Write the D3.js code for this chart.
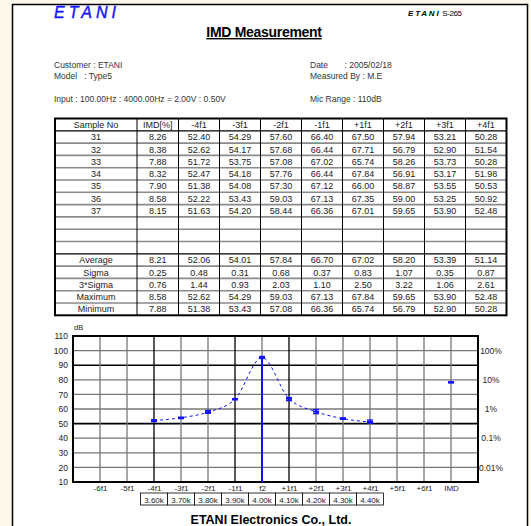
<!DOCTYPE html>
<html>
<head>
<meta charset="utf-8">
<script src="https://cdn.jsdelivr.net/npm/d3@7"></script>
<style>
html, body { margin: 0; padding: 0; background: #fcf8ec; }
svg { display: block; font-family: "Liberation Sans", Arial, sans-serif; }
</style>
</head>
<body>
<svg id="page" width="531" height="526"></svg>
<script>
// ---- data ----
const columns = ["Sample No", "IMD[%]", "-4f1", "-3f1", "-2f1", "-1f1", "+1f1", "+2f1", "+3f1", "+4f1"];
const samples = ["31", "32", "33", "34", "35", "36", "37"];
const imdPct = [8.26, 8.38, 7.88, 8.32, 7.90, 8.58, 8.15];
const m4f1 = [52.40, 52.62, 51.72, 52.47, 51.38, 52.22, 51.63];
const m3f1 = [54.29, 54.17, 53.75, 54.18, 54.08, 53.43, 54.20];
const m2f1 = [57.60, 57.68, 57.08, 57.76, 57.30, 59.03, 58.44];
const m1f1 = [66.40, 66.44, 67.02, 66.44, 67.12, 67.13, 66.36];
const p1f1 = [67.50, 67.71, 65.74, 67.84, 66.00, 67.35, 67.01];
const p2f1 = [57.94, 56.79, 58.26, 56.91, 58.87, 59.00, 59.65];
const p3f1 = [53.21, 52.90, 53.73, 53.17, 53.55, 53.25, 53.90];
const p4f1 = [50.28, 51.54, 50.28, 51.98, 50.53, 50.92, 52.48];

const statNames = ["Average", "Sigma", "3*Sigma", "Maximum", "Minimum"];
const avgRow = [8.21, 52.06, 54.01, 57.84, 66.70, 67.02, 58.20, 53.39, 51.14];
const sigmaRow = [0.25, 0.48, 0.31, 0.68, 0.37, 0.83, 1.07, 0.35, 0.87];
const sigma3Row = [0.76, 1.44, 0.93, 2.03, 1.10, 2.50, 3.22, 1.06, 2.61];
const maxRow = [8.58, 52.62, 54.29, 59.03, 67.13, 67.84, 59.65, 53.90, 52.48];
const minRow = [7.88, 51.38, 53.43, 57.08, 66.36, 65.74, 56.79, 52.90, 50.28];

// chart
const xCats = ["-6f1", "-5f1", "-4f1", "-3f1", "-2f1", "-1f1", "f2", "+1f1", "+2f1", "+3f1", "+4f1", "+5f1", "+6f1", "IMD"];
const levelCats = ["-4f1", "-3f1", "-2f1", "-1f1", "f2", "+1f1", "+2f1", "+3f1", "+4f1"];
const freqLabels = ["3.60k", "3.70k", "3.80k", "3.90k", "4.00k", "4.10k", "4.20k", "4.30k", "4.40k"];
const f2Level = [94.6, 95.3, 96.0]; // min, avg, max (estimated from the plot)
const dbTicks = [10, 20, 30, 40, 50, 60, 70, 80, 90, 100, 110];
const pctTicks = [100, 80, 60, 40, 20];
const pctLabels = ["100%", "10%", "1%", "0.1%", "0.01%"];

const blue = "#1010ff";
const svg = d3.select("#page");

// page sheet
svg.append("rect").attr("x", 12.5).attr("y", 4.5).attr("width", 515).attr("height", 540)
  .attr("fill", "#fff").attr("stroke", "#000").attr("stroke-width", 1.5);

// ---- header ----
svg.append("text").attr("x", 54).attr("y", 18).text("ETANI")
  .attr("fill", "#1414ff").attr("font-size", 16).attr("font-style", "italic")
  .attr("stroke", "#1414ff").attr("stroke-width", 0.4)
  .attr("letter-spacing", 4);
const brand = svg.append("text").attr("x", 408).attr("y", 16).attr("font-size", 8);
brand.append("tspan").text("ETANI").attr("font-weight", "bold").attr("font-style", "italic")
  .attr("letter-spacing", 1.8);
brand.append("tspan").text(" S-265").attr("letter-spacing", -0.4);

svg.append("text").attr("x", 264).attr("y", 37).attr("text-anchor", "middle")
  .attr("font-size", 14).attr("font-weight", "bold").attr("text-decoration", "underline")
  .attr("letter-spacing", -0.3).text("IMD Measurement");

const infoLeft = [["Customer : ETANI", 68], ["Model   : Type5", 79], ["Input : 100.00Hz : 4000.00Hz = 2.00V : 0.50V", 102]];
const infoRight = [["Date       : 2005/02/18", 68], ["Measured By : M.E", 79], ["Mic Range : 110dB", 102]];
svg.selectAll(".infoL").data(infoLeft).join("text")
  .attr("x", 54).attr("y", d => d[1]).attr("font-size", 8.5).attr("fill", "#333")
  .style("white-space", "pre").text(d => d[0]);
svg.selectAll(".infoR").data(infoRight).join("text")
  .attr("x", 310).attr("y", d => d[1]).attr("font-size", 8.5).attr("fill", "#333")
  .style("white-space", "pre").text(d => d[0]);

// ---- table ----
const colW = [82, 41.5, 41, 41, 41, 41, 41, 41, 41, 41];
const tx0 = 55, ty0 = 118.5, rowH = 12.3;
const colX = [tx0].concat(Array.from(d3.cumsum(colW), v => tx0 + v));
const dataCols = [imdPct, m4f1, m3f1, m2f1, m1f1, p1f1, p2f1, p3f1, p4f1];
const statRows = [avgRow, sigmaRow, sigma3Row, maxRow, minRow];

const rows = [columns];
samples.forEach((s, i) => rows.push([s].concat(dataCols.map(c => c[i].toFixed(2)))));
for (let k = 0; k < 3; k++) rows.push(columns.map(() => ""));
statNames.forEach((s, i) => rows.push([s].concat(statRows[i].map(v => v.toFixed(2)))));

const tbl = svg.append("g");
const tRight = colX[colX.length - 1];
const tBottom = ty0 + rows.length * rowH;
// horizontal separators
d3.range(1, rows.length).forEach(r => {
  const dark = r === 1 || r === 11;
  tbl.append("line").attr("x1", tx0).attr("x2", tRight)
    .attr("y1", ty0 + r * rowH).attr("y2", ty0 + r * rowH)
    .attr("stroke", dark ? "#000" : "#8a8a8a").attr("stroke-width", dark ? 1.2 : 1.6);
});
// vertical separators
colX.slice(1, -1).forEach(cx => {
  tbl.append("line").attr("x1", cx).attr("x2", cx).attr("y1", ty0).attr("y2", tBottom)
    .attr("stroke", "#000").attr("stroke-width", 1);
});
tbl.append("rect").attr("x", tx0).attr("y", ty0)
  .attr("width", tRight - tx0).attr("height", tBottom - ty0)
  .attr("fill", "none").attr("stroke", "#000").attr("stroke-width", 2);
rows.forEach((row, r) => {
  row.forEach((t, c) => {
    if (!t) return;
    tbl.append("text").attr("x", (colX[c] + colX[c + 1]) / 2)
      .attr("y", ty0 + r * rowH + rowH / 2 + 3.3).attr("text-anchor", "middle")
      .attr("font-size", 9).attr("fill", "#222").text(t);
  });
});

// ---- chart ----
const px0 = 73, px1 = 478, py0 = 336, py1 = 482;
const y = d3.scaleLinear().domain([10, 110]).range([py1, py0]);
const x = d3.scalePoint().domain(xCats).range([px0, px1]).padding(1);
const ch = svg.append("g");

dbTicks.slice(1, -1).forEach(v => {
  const major = v === 90 || v === 50;
  ch.append("line").attr("x1", px0).attr("x2", px1).attr("y1", y(v)).attr("y2", y(v))
    .attr("stroke", major ? "#000" : "#777").attr("stroke-width", major ? 1.6 : 1.3);
});
xCats.forEach(c => {
  const major = c === "-4f1" || c === "-1f1" || c === "+1f1";
  ch.append("line").attr("x1", x(c)).attr("x2", x(c)).attr("y1", py0).attr("y2", py1)
    .attr("stroke", major ? "#000" : "#777").attr("stroke-width", 1.3);
});

ch.append("g").attr("transform", `translate(${px0},0)`)
  .call(d3.axisLeft(y).tickValues(dbTicks).tickSize(0).tickPadding(5))
  .call(g => g.select(".domain").remove())
  .call(g => g.selectAll("text").attr("font-size", 8.5).attr("fill", "#222").attr("font-family", null));
ch.append("g").attr("transform", `translate(${px1},0)`)
  .call(d3.axisRight(y).tickValues(pctTicks).tickSize(0).tickFormat((d, i) => pctLabels[i]))
  .call(g => g.select(".domain").remove())
  .call(g => g.selectAll("text").attr("x", 13).attr("text-anchor", "middle")
    .attr("font-size", 8.5).attr("fill", "#222").attr("font-family", null));
ch.append("g").attr("transform", `translate(0,${py1})`)
  .call(d3.axisBottom(x).tickSize(0).tickPadding(3))
  .call(g => g.select(".domain").remove())
  .call(g => g.selectAll("text").attr("font-size", 8).attr("fill", "#222").attr("font-family", null));
svg.append("text").attr("x", 74).attr("y", 330).attr("font-size", 7.5).attr("fill", "#222").text("dB");

// frequency boxes
const step = x.step();
levelCats.forEach((c, i) => {
  ch.append("rect").attr("x", x(c) - step / 2).attr("y", 493).attr("width", step).attr("height", 12)
    .attr("fill", "#fff").attr("stroke", "#000").attr("stroke-width", 0.8);
  ch.append("text").attr("x", x(c)).attr("y", 502.5).attr("text-anchor", "middle")
    .attr("font-size", 8).attr("fill", "#222").text(freqLabels[i]);
});

// plot border
ch.append("rect").attr("x", px0).attr("y", py0).attr("width", px1 - px0).attr("height", py1 - py0)
  .attr("fill", "none").attr("stroke", "#000").attr("stroke-width", 2);

// level series
const lv = levelCats.map((c, i) => {
  if (c === "f2") return { c, min: f2Level[0], avg: f2Level[1], max: f2Level[2] };
  const k = i < 4 ? i + 1 : i; // column in stat rows (skip IMD)
  return { c, min: minRow[k], avg: avgRow[k], max: maxRow[k] };
});
const toDb = p => 100 + 20 * Math.log10(p / 100);
const imdPt = { c: "IMD", min: toDb(minRow[0]), avg: toDb(avgRow[0]), max: toDb(maxRow[0]) };

// f2 stem
ch.append("line").attr("x1", x("f2")).attr("x2", x("f2")).attr("y1", py1).attr("y2", y(f2Level[2]))
  .attr("stroke", blue).attr("stroke-width", 2);

ch.append("path").datum(lv)
  .attr("d", d3.line().x(d => x(d.c)).y(d => y(d.avg)).curve(d3.curveMonotoneX))
  .attr("fill", "none").attr("stroke", blue).attr("stroke-width", 1).attr("stroke-dasharray", "3,3");

lv.concat([imdPt]).forEach(d => {
  const cx = x(d.c);
  const g = ch.append("g").attr("stroke", blue);
  g.append("line").attr("x1", cx).attr("x2", cx).attr("y1", y(d.min)).attr("y2", y(d.max)).attr("stroke-width", 1.3);
  [d.min, d.max].forEach(v => g.append("line").attr("x1", cx - 3).attr("x2", cx + 3)
    .attr("y1", y(v)).attr("y2", y(v)).attr("stroke-width", 1.3));
  g.append("line").attr("x1", cx - 3).attr("x2", cx + 3).attr("y1", y(d.avg)).attr("y2", y(d.avg)).attr("stroke-width", 2);
});

// footer
svg.append("text").attr("x", 271).attr("y", 524).attr("text-anchor", "middle")
  .attr("font-size", 12.5).attr("font-weight", "bold").text("ETANI Electronics Co., Ltd.");
</script>
</body>
</html>
